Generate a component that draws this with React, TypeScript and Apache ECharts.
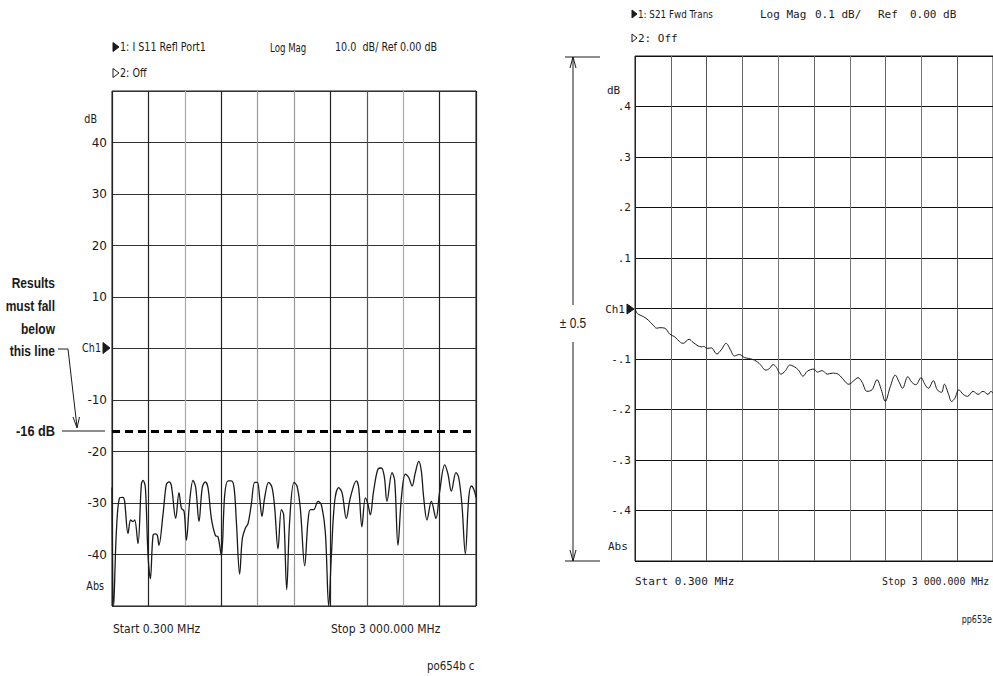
import React, { useEffect, useRef } from "react";
import * as echarts from "echarts";

// ---------- Left panel: S11 reflection (dB) ----------
const leftFreqMHz = [
  0.3, 14, 36, 63, 91, 104, 132, 154, 173, 187, 214, 242, 256, 275, 297, 316, 338, 357, 374, 387,
  420, 448, 470, 489, 525, 552, 572, 594, 613, 640, 668, 690, 717, 744, 769, 791, 819, 852, 874, 901,
  929, 956, 984, 1006, 1025, 1052, 1074, 1099, 1121, 1148, 1176, 1198, 1217, 1236, 1258, 1291, 1319, 1341, 1368, 1396,
  1415, 1440, 1464, 1500, 1525, 1552, 1588, 1615, 1635, 1662, 1698, 1725, 1758, 1786, 1808, 1835, 1868, 1896, 1931, 1964,
  2014, 2033, 2060, 2088, 2110, 2129, 2156, 2192, 2220, 2245, 2266, 2308, 2330, 2357, 2385, 2418, 2445, 2473, 2500, 2528,
  2549, 2569, 2596, 2632, 2670, 2701, 2742, 2769, 2797, 2835, 2857, 2884, 2912, 2940, 2962, 2981, 3000,
];
const leftS11dB = [
  -27, -50, -35.6, -29, -28.9, -29.7, -35.9, -33.3, -33.6, -33.3, -37.9, -26.4, -25.6, -27, -40.2, -44.7, -36.3, -36, -36.3, -38.2,
  -32.3, -26.4, -25.9, -26.6, -33, -28, -31, -31.6, -37.2, -29.7, -25.6, -27, -33.6, -27, -25.9, -27, -33, -36.3, -36.6, -40.2,
  -28.4, -25.7, -25.7, -27, -33.6, -43.8, -36.9, -34.9, -34, -30.3, -26, -26, -29, -32.6, -29, -26, -27, -31, -38.9, -31.3,
  -32.3, -46.8, -33.6, -26, -26.7, -31, -42.2, -33.6, -31.3, -31.3, -29.7, -30.3, -35.6, -50, -40.2, -29.7, -27, -28, -33, -29,
  -25.7, -27, -34.6, -29, -30.3, -32.3, -27.7, -23.4, -23.2, -25, -29.7, -24.1, -25.7, -38.2, -29, -24.4, -25, -26.7, -24.1, -21.9,
  -23.7, -29, -33.3, -29.7, -33, -27.7, -22.6, -24.4, -27.7, -24.1, -25, -30.3, -39.9, -29, -26.7, -27.3, -28.9,
];
const leftLimitDB = -16;

// ---------- Right panel: S21 forward transmission (dB) ----------
const rightFreqMHz = [
  0.3, 20, 70, 111, 153, 181, 208, 250, 292, 333, 375, 403, 453, 486, 528, 556, 575, 603, 639, 686,
  722, 764, 800, 833, 875, 917, 953, 1000, 1042, 1097, 1125, 1158, 1186, 1222, 1258, 1297, 1333, 1370, 1408, 1445,
  1500, 1528, 1569, 1611, 1653, 1703, 1736, 1792, 1833, 1869, 1903, 1944, 1986, 2028, 2064, 2097, 2139, 2181, 2214, 2242,
  2286, 2319, 2353, 2397, 2431, 2458, 2500, 2533, 2569, 2592, 2625, 2653, 2680, 2714, 2750, 2786, 2833, 2875, 2917, 2958,
  2983, 3000,
];
const rightS21dB = [
  0, -0.01, -0.016, -0.023, -0.033, -0.039, -0.038, -0.039, -0.051, -0.056, -0.066, -0.069, -0.061, -0.067, -0.074, -0.076, -0.075, -0.079, -0.078, -0.09,
  -0.082, -0.069, -0.082, -0.094, -0.091, -0.097, -0.099, -0.102, -0.109, -0.122, -0.119, -0.111, -0.117, -0.13, -0.124, -0.112, -0.115, -0.122, -0.134, -0.124,
  -0.12, -0.126, -0.123, -0.13, -0.128, -0.13, -0.138, -0.15, -0.143, -0.137, -0.146, -0.164, -0.161, -0.141, -0.161, -0.184, -0.155, -0.132, -0.146, -0.158,
  -0.135, -0.146, -0.151, -0.137, -0.151, -0.158, -0.143, -0.161, -0.166, -0.15, -0.168, -0.184, -0.178, -0.161, -0.17, -0.174, -0.164, -0.17, -0.164, -0.17,
  -0.164, -0.168,
];

const leftTickLabels: Record<string, string> = {
  "40": "40", "30": "30", "20": "20", "10": "10", "-10": "-10", "-20": "-20", "-30": "-30", "-40": "-40",
};
const rightTickLabels: Record<string, string> = {
  "0.4": ".4", "0.3": ".3", "0.2": ".2", "0.1": ".1", "-0.1": "-.1", "-0.2": "-.2", "-0.3": "-.3", "-0.4": "-.4",
};

const SANS = "'DejaVu Sans', 'Noto Sans', sans-serif";
const MONO = "'DejaVu Sans Mono', 'Liberation Mono', monospace";
const BOLD = "'Liberation Sans', Arial, sans-serif";
const INK = "#1a1a1a";

function txt(text: string, x: number, y: number, opts: any = {}) {
  return {
    type: "text",
    silent: true,
    x,
    y,
    scaleX: opts.sx || 1,
    style: {
      text,
      x: 0,
      y: 0,
      fill: opts.fill || INK,
      fontSize: opts.size || 12,
      fontFamily: opts.font || SANS,
      fontWeight: opts.weight || "normal",
      align: opts.align || "left",
      verticalAlign: "middle",
    },
  };
}
function ln(x1: number, y1: number, x2: number, y2: number, w = 1) {
  return { type: "line", silent: true, shape: { x1, y1, x2, y2 }, style: { stroke: INK, lineWidth: w } };
}
function poly(points: number[][], w = 1) {
  return { type: "polyline", silent: true, shape: { points }, style: { stroke: INK, lineWidth: w, fill: "none" } };
}
function tri(x: number, y: number, w: number, h: number, filled = true) {
  return {
    type: "polygon",
    silent: true,
    shape: { points: [[x, y - h / 2], [x + w, y], [x, y + h / 2]] },
    style: { fill: filled ? INK : "#fff", stroke: INK, lineWidth: 1 },
  };
}

export default function App() {
  const ref = useRef<HTMLDivElement>(null);
  useEffect(() => {
    if (!ref.current) return;
    const chart = echarts.init(ref.current, undefined, { renderer: "svg" });
    const leftData = leftFreqMHz.map((f, i) => [f, leftS11dB[i]]);
    const rightData = rightFreqMHz.map((f, i) => [f, rightS21dB[i]]);
    const G = { size: 12, sx: 0.8 };
    const B = { size: 15, font: BOLD, weight: "bold", align: "right", sx: 0.8 };

    const graphic: any[] = [
      // Left header
      tri(113, 47, 6, 9),
      txt("1: I S11 Refl Port1", 120, 47, G),
      txt("Log Mag", 270, 47, { size: 12, sx: 0.72 }),
      txt("10.0  dB/ Ref 0.00 dB", 335, 47, { size: 12, sx: 0.8 }),
      tri(113, 73, 6, 9, false),
      txt("2: Off", 120, 73, G),
      txt("dB", 97, 119, { ...G, align: "right" }),
      txt("Ch1", 101, 348, { ...G, align: "right" }),
      tri(103, 348, 7, 11),
      txt("Abs", 104, 586, { ...G, align: "right" }),
      txt("Start 0.300 MHz", 113, 629, { size: 12, sx: 0.9 }),
      txt("Stop 3 000.000 MHz", 331, 629, { size: 12, sx: 0.9 }),
      txt("po654b c", 427, 666, { size: 12, sx: 0.85 }),
      // Annotation
      txt("Results", 55, 283, B),
      txt("must fall", 55, 306, B),
      txt("below", 55, 329, B),
      txt("this line", 55, 351, B),
      poly([[58, 349], [68, 349], [77, 427]], 1),
      poly([[73, 417], [77, 428], [79.5, 417]], 1),
      txt("-16 dB", 55, 431, { ...B, sx: 0.85 }),
      ln(62, 431, 105, 431, 1),
      // Right header
      tri(632, 14, 5, 8),
      txt("1: S21 Fwd Trans", 638, 14, { size: 11, sx: 0.8 }),
      txt("Log Mag", 760, 14, { size: 11, font: MONO }),
      txt("0.1 dB/", 815, 14, { size: 11, font: MONO }),
      txt("Ref", 878, 14, { size: 11, font: MONO }),
      txt("0.00 dB", 910, 14, { size: 11, font: MONO }),
      tri(632, 38, 5, 8, false),
      txt("2: Off", 638, 38, { size: 11, font: MONO }),
      txt("dB", 607, 90, { size: 11, font: MONO }),
      txt("Ch1", 625, 309, { size: 11, font: MONO, align: "right" }),
      tri(627, 309, 7, 10),
      txt("Abs", 608, 546, { size: 11, font: MONO }),
      txt("Start 0.300 MHz", 635, 581, { size: 11, font: MONO }),
      txt("Stop 3 000.000 MHz", 882, 581, { size: 11, font: MONO, sx: 0.9 }),
      txt("pp653e", 992, 620, { size: 10, sx: 0.8, align: "right" }),
      // ±0.5 span arrow
      ln(565, 57, 600, 57, 1),
      ln(565, 561, 600, 561, 1),
      ln(573, 57, 573, 305, 1),
      ln(573, 342, 573, 561, 1),
      poly([[570, 68], [573, 57], [576, 68]], 1),
      poly([[570, 550], [573, 561], [576, 550]], 1),
      txt("± 0.5", 573, 323, { size: 14, font: BOLD, align: "center", sx: 0.85 }),
    ];

    chart.setOption({
      animation: false,
      backgroundColor: "#fff",
      grid: [
        { left: 112, top: 91, width: 364, height: 515, show: true, borderColor: INK, borderWidth: 1, containLabel: false },
        { left: 635, top: 56, width: 360, height: 505, show: true, borderColor: INK, borderWidth: 1, containLabel: false },
      ],
      xAxis: [
        {
          type: "value", gridIndex: 0, min: 0, max: 3000, interval: 300,
          axisLine: { show: false }, axisTick: { show: false }, axisLabel: { show: false },
          splitLine: {
            show: true,
            lineStyle: {
              width: 1.2,
              color: ["#222", "#222", "#aaa", "#222", "#999", "#999", "#222", "#555", "#aaa", "#222", "#222"],
            },
          },
        },
        {
          type: "value", gridIndex: 1, min: 0, max: 3000, interval: 300,
          axisLine: { show: false }, axisTick: { show: false }, axisLabel: { show: false },
          splitLine: { show: true, lineStyle: { width: 1, color: ["#222", "#666", "#555", "#666", "#777", "#666", "#777", "#666", "#777", "#555", "#666"] } },
        },
      ],
      yAxis: [
        {
          type: "value", gridIndex: 0, min: -50, max: 50, interval: 10,
          axisLine: { show: false }, axisTick: { show: false },
          axisLabel: {
            show: true, margin: 5, color: INK, fontSize: 12, fontFamily: SANS,
            formatter: (v: number) => leftTickLabels[String(v)] || "",
          },
          splitLine: { show: true, lineStyle: { color: "#333", width: 1.2 } },
        },
        {
          type: "value", gridIndex: 1, min: -0.5, max: 0.5, interval: 0.1,
          axisLine: { show: false }, axisTick: { show: false },
          axisLabel: {
            show: true, margin: 4, color: INK, fontSize: 11, fontFamily: MONO,
            formatter: (v: number) => rightTickLabels[String(Math.round(v * 10) / 10)] || "",
          },
          splitLine: { show: true, lineStyle: { color: "#111", width: 1.2 } },
        },
      ],
      series: [
        {
          type: "line", xAxisIndex: 0, yAxisIndex: 0, data: leftData, smooth: 0.35, symbol: "none",
          lineStyle: { color: INK, width: 1.3 },
          markLine: {
            silent: true, symbol: "none", label: { show: false },
            lineStyle: { color: "#000", width: 3, type: [8, 5] },
            data: [{ yAxis: leftLimitDB }],
          },
        },
        {
          type: "line", xAxisIndex: 1, yAxisIndex: 1, data: rightData, smooth: 0.35, symbol: "none",
          lineStyle: { color: INK, width: 1 },
        },
      ],
      graphic,
    });
    return () => chart.dispose();
  }, []);
  return <div ref={ref} style={{ position: "absolute", left: 0, top: 0, width: 993, height: 676 }} />;
}
